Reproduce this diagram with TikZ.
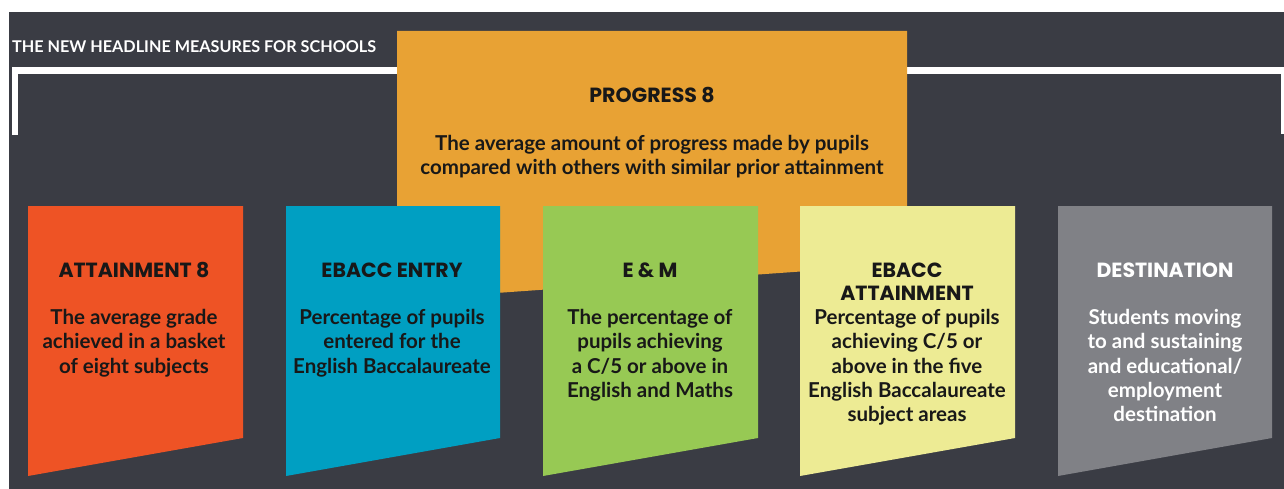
\documentclass[tikz,border=0pt]{standalone}
\usepackage{fontspec}
\setmainfont{Lato}
\newfontfamily\headfont{Poppins}
\definecolor{bgdark}{RGB}{58,60,68}
\definecolor{porange}{RGB}{232,162,52}
\definecolor{pred}{RGB}{238,83,37}
\definecolor{pblue}{RGB}{0,159,194}
\definecolor{pgreen}{RGB}{151,201,84}
\definecolor{pyellow}{RGB}{237,235,148}
\definecolor{pgray}{RGB}{128,129,134}
\definecolor{ink}{RGB}{24,24,24}
\begin{document}
\begin{tikzpicture}[x=1pt,y=-1pt,
  bodytext/.style={font=\bfseries\fontsize{20.5}{24.3}\selectfont, align=center, inner sep=0pt, text=ink, anchor=north},
  headtext/.style={font=\headfont\bfseries\fontsize{20.5}{23}\selectfont, align=center, inner sep=0pt, text=ink, anchor=base},
  titletext/.style={font=\bfseries\fontsize{16.2}{18}\selectfont, inner sep=0pt, text=white, anchor=base west},
  measure/.style={fill=#1}]
\useasboundingbox (0,0) rectangle (1284,489);
% background panel
\fill[bgdark] (9,12) rectangle (1284,489);
% white bracket
\fill[white] (12,67) rectangle (1284,74);
\fill[white] (12,67) rectangle (18,135);
\fill[white] (1281,67) rectangle (1284,134);
% title
\node[titletext] (title) at (12,53) {THE NEW HEADLINE MEASURES FOR SCHOOLS};
% progress 8
\fill[porange] (397,31) -- (907,31) -- (907,264) -- (397,300) -- cycle;
\node[headtext] (p8head) at (652,103) {PROGRESS 8};
\node[bodytext] (p8body) at (652,135) {The average amount of progress made by pupils\\compared with others with similar prior attainment};
% measure boxes
\fill[measure=pred]    (28,206) -- (243,206) -- (243,438) -- (28,476) -- cycle;
\fill[measure=pblue]   (286,206) -- (500,206) -- (500,438) -- (286,476) -- cycle;
\fill[measure=pgreen]  (543,206) -- (758,206) -- (758,438) -- (543,476) -- cycle;
\fill[measure=pyellow] (800,206) -- (1015,206) -- (1015,438) -- (800,476) -- cycle;
\fill[measure=pgray]   (1058,206) -- (1272,206) -- (1272,438) -- (1058,476) -- cycle;
% texts
\node[headtext] (a8head) at (134,277) {ATTAINMENT 8};
\node[bodytext] (a8body) at (134,309) {The average grade\\achieved in a basket\\of eight subjects};
\node[headtext] (eehead) at (392,277) {EBACC ENTRY};
\node[bodytext] (eebody) at (392,309) {Percentage of pupils\\entered for the\\English Baccalaureate};
\node[headtext] (emhead) at (650,277) {E \& M};
\node[bodytext] (embody) at (650,309) {The percentage of\\pupils achieving\\a C/5 or above in\\English and Maths};
\node[headtext] (eahead) at (907,300) {EBACC\\ATTAINMENT};
\node[bodytext] (eabody) at (907,309) {Percentage of pupils\\achieving C/5 or\\above in the five\\English Baccalaureate\\subject areas};
\node[headtext, text=white] (dhead) at (1165,277) {DESTINATION};
\node[bodytext, text=white] (dbody) at (1165,309) {Students moving\\to and sustaining\\and educational/\\employment\\destination};
\end{tikzpicture}
\end{document}
